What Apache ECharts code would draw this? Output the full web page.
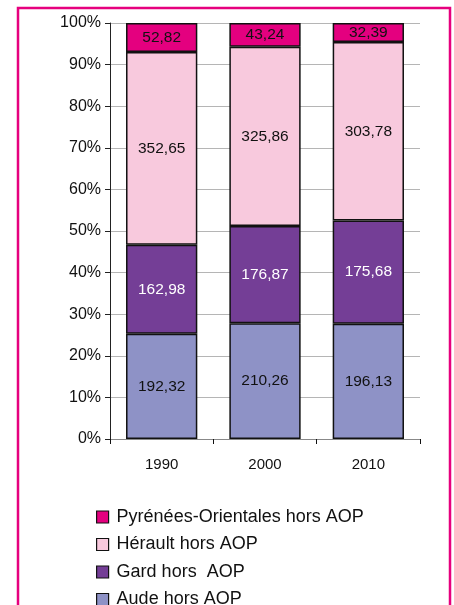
<!DOCTYPE html>
<html>
<head>
<meta charset="utf-8">
<script src="https://cdn.jsdelivr.net/npm/echarts@6/dist/echarts.min.js"></script>
<style>
html,body{margin:0;padding:0;background:#fff;}
#main{width:454px;height:605px;}
</style>
</head>
<body>
<div id="main"></div>
<script>
// données (milliers d'hl)
var years = ['1990', '2000', '2010'];
var aude = [192.32, 210.26, 196.13];
var gard = [162.98, 176.87, 175.68];
var herault = [352.65, 325.86, 303.78];
var pyrenees = [52.82, 43.24, 32.39];
var yTicks = [0, 10, 20, 30, 40, 50, 60, 70, 80, 90, 100];

var names = ['Aude hors AOP', 'Gard hors  AOP', 'Hérault hors AOP', 'Pyrénées-Orientales hors AOP'];
var colors = ['#8E92C6', '#743E96', '#F8C9DD', '#E4007F'];
var labelColors = ['#111', '#fff', '#111', '#111'];
var raw = [aude, gard, herault, pyrenees];

// totaux par année pour passer en 100 %
var totals = years.map(function(y, i){
	var s = 0;
	for(var k = 0; k < raw.length; k++){ s += raw[k][i]; }
	return s;
});

function fmt(v){
	return v.toFixed(2).replace('.', ',');
}

var series = raw.map(function(arr, k){
	return {
		name: names[k],
		type: 'bar',
		stack: 'total',
		barCategoryGap: '31%',
		itemStyle: {
			color: colors[k],
			borderColor: '#111',
			borderWidth: 1.5
		},
		label: {
			show: true,
			position: 'inside',
			color: labelColors[k],
			fontSize: 15.5,
			fontFamily: 'Liberation Sans, Arial, sans-serif',
			formatter: function(p){ return fmt(arr[p.dataIndex]); }
		},
		data: arr.map(function(v, i){ return v / totals[i] * 100; })
	};
});

var myChart = echarts.init(document.getElementById('main'));
var option = {
	animation: false,
	textStyle: { fontFamily: 'Liberation Sans, Arial, sans-serif' },
	graphic: [{
		type: 'rect',
		shape: { x: 18, y: 8, width: 432, height: 640 },
		style: { fill: 'none', stroke: '#E6007E', lineWidth: 2.5 },
		z: 100
	}],
	grid: { left: 110, right: 34, top: 23, bottom: 166 },
	legend: {
		orient: 'vertical',
		left: 91,
		top: 503,
		height: 110,
		itemWidth: 12,
		itemHeight: 12,
		itemGap: 9.5,
		icon: 'rect',
		data: names.slice().reverse(),
		itemStyle: { borderColor: '#111', borderWidth: 1.2 },
		textStyle: { fontSize: 18, lineHeight: 18, color: '#111', padding: [0, 0, 0, 3] }
	},
	xAxis: {
		type: 'category',
		data: years,
		axisLine: { lineStyle: { color: '#888', width: 1 } },
		axisTick: { show: true, length: 5, lineStyle: { color: '#111' } },
		axisLabel: { fontSize: 15, color: '#111', margin: 18 }
	},
	yAxis: {
		type: 'value',
		min: yTicks[0],
		max: yTicks[yTicks.length - 1],
		interval: 10,
		axisLine: { show: true, lineStyle: { color: '#222', width: 1 } },
		axisTick: { show: true, length: 5, lineStyle: { color: '#222' } },
		splitLine: { lineStyle: { color: '#b5b5b5', width: 1 } },
		axisLabel: { fontSize: 16, color: '#111', margin: 9, formatter: '{value}%' }
	},
	series: series
};
myChart.setOption(option);
</script>
</body>
</html>
